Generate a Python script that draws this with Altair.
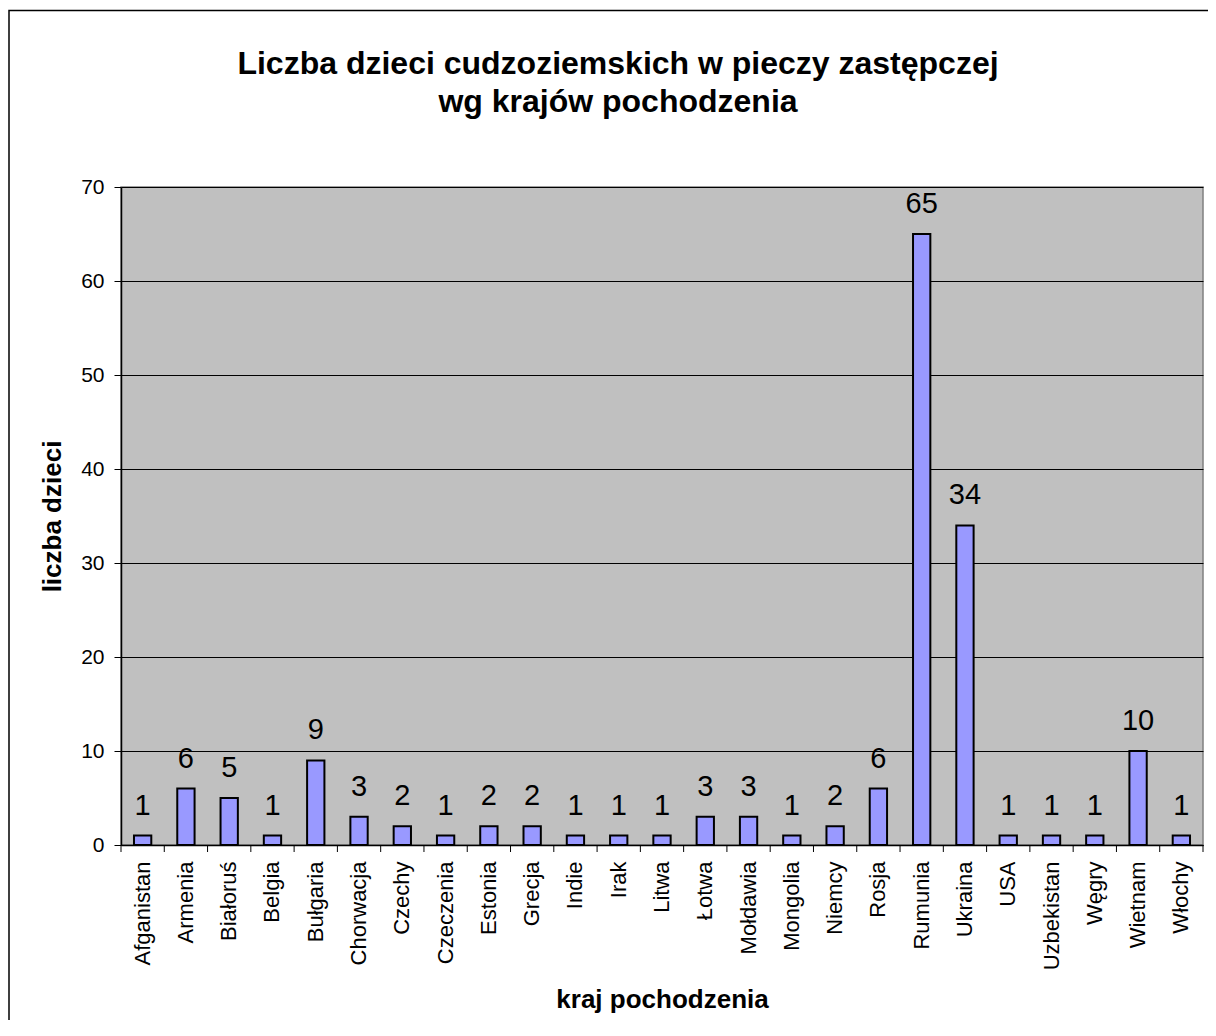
import altair as alt
import pandas as pd

countries = ["Afganistan", "Armenia", "Białoruś", "Belgia", "Bułgaria", "Chorwacja",
             "Czechy", "Czeczenia", "Estonia", "Grecja", "Indie", "Irak", "Litwa",
             "Łotwa", "Mołdawia", "Mongolia", "Niemcy", "Rosja", "Rumunia", "Ukraina",
             "USA", "Uzbekistan", "Węgry", "Wietnam", "Włochy"]
counts = [1, 6, 5, 1, 9, 3, 2, 1, 2, 2, 1, 1, 1, 3, 3, 1, 2, 6, 65, 34, 1, 1, 1, 10, 1]

title_lines = ["Liczba dzieci cudzoziemskich w pieczy zastępczej", "wg krajów pochodzenia"]
y_title = "liczba dzieci"
x_title = "kraj pochodzenia"

df = pd.DataFrame({"kraj": countries, "liczba": counts})

FONT = "Liberation Sans"
W, H = 1082, 658
step = W / len(countries)

x_enc = alt.X("kraj:N", sort=None,
              scale=alt.Scale(paddingInner=0.6, paddingOuter=0.3),
              axis=alt.Axis(title=x_title, labelAngle=-90, labelFontSize=22, labelFont=FONT,
                            labelColor="black", ticks=False, tickSize=0, labelPadding=16,
                            domainColor="black", domainWidth=1.5,
                            titleFont=FONT, titleFontSize=26, titleFontWeight="bold",
                            titleColor="black", titleX=W / 2, titleY=162,
                            titleBaseline="alphabetic", titleAlign="center",
                            labelOverlap=False, grid=False))
y_enc = alt.Y("liczba:Q",
              scale=alt.Scale(domain=[0, 70], nice=False),
              axis=alt.Axis(title=y_title, values=[0, 10, 20, 30, 40, 50, 60, 70],
                            labelFontSize=21, labelFont=FONT, labelColor="black",
                            tickSize=7, tickColor="black", labelPadding=10,
                            domainColor="black", domainWidth=1.5,
                            grid=True, gridColor="black", gridWidth=1, gridOpacity=1,
                            titleFont=FONT, titleFontSize=26, titleFontWeight="bold",
                            titleColor="black", titleX=-61, titleY=H / 2,
                            titleAngle=-90, titleBaseline="alphabetic", titleAlign="center"))

base = alt.Chart(df)

bars = base.mark_bar(color="#9999FF", stroke="black", strokeWidth=2).encode(x=x_enc, y=y_enc)

labels = base.mark_text(font=FONT, fontSize=29, color="black", baseline="alphabetic", dy=-21).encode(
    x=alt.X("kraj:N", sort=None), y="liczba:Q", text="liczba:Q")

sep_ticks = base.mark_rule(color="black", strokeWidth=1, xOffset=step / 2).encode(
    x=alt.X("kraj:N", sort=None), y=alt.value(H), y2=alt.value(H + 7))

one = alt.Data(values=[{}])

first_tick = alt.Chart(one).mark_rule(color="black", strokeWidth=1).encode(
    x=alt.value(0), y=alt.value(H), y2=alt.value(H + 7))

frame = alt.Chart(one).mark_rect(
    fill=None, fillOpacity=0, stroke="black", strokeWidth=1.5).encode(
    x=alt.value(-112), x2=alt.value(W + 60), y=alt.value(-176.5), y2=alt.value(H + 300))

title1 = alt.Chart(one).mark_text(font=FONT, fontSize=32, fontWeight="bold", color="black",
                                  baseline="alphabetic", align="center").encode(
    x=alt.value(497), y=alt.value(-113.5), text=alt.value(title_lines[0]))
title2 = alt.Chart(one).mark_text(font=FONT, fontSize=32, fontWeight="bold", color="black",
                                  baseline="alphabetic", align="center").encode(
    x=alt.value(497), y=alt.value(-75.5), text=alt.value(title_lines[1]))

chart = alt.layer(bars, labels, sep_ticks, first_tick, frame, title1, title2).properties(
    width=W, height=H,
    autosize=alt.AutoSizeParams(type="none"),
    padding={"left": 113, "top": 179, "right": 5, "bottom": 175},
    background="white",
).configure_view(fill="#C0C0C0", stroke="#808080", strokeWidth=1.5)

chart.save("out.html", embed_options={"renderer": "svg", "actions": False})
